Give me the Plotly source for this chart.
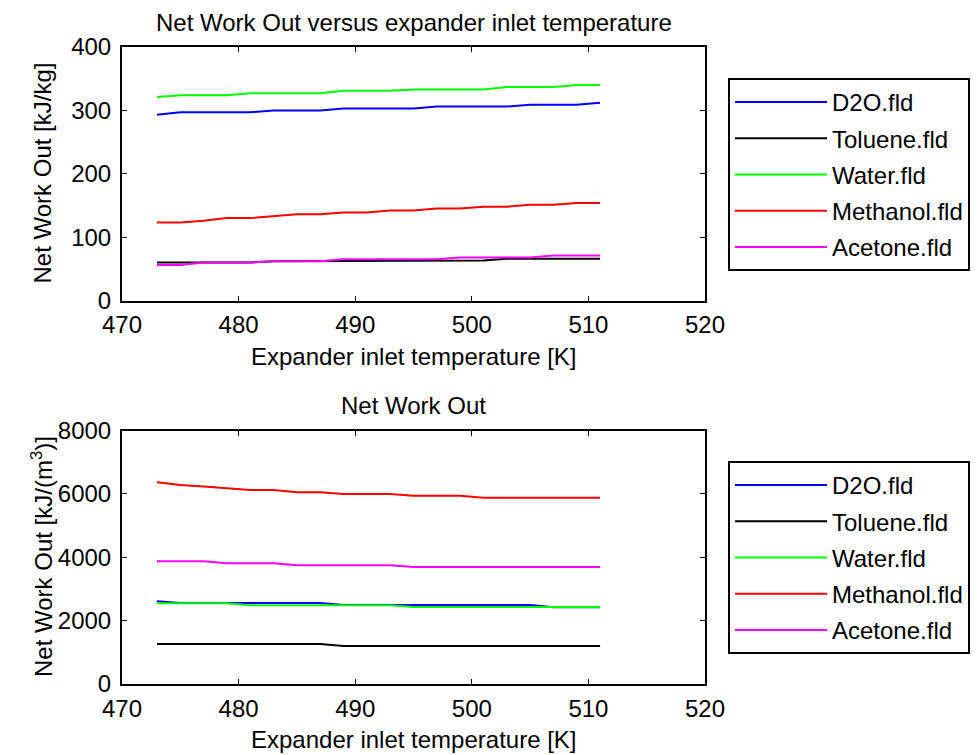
import plotly.graph_objects as go

# ---------------- data ----------------
temps = [473, 475, 477, 479, 481, 483, 485, 487, 489, 491,
         493, 495, 497, 499, 501, 503, 505, 507, 509, 511]
fluids = ["D2O.fld", "Toluene.fld", "Water.fld", "Methanol.fld", "Acetone.fld"]
colors = ["#0000FF", "#000000", "#00FF00", "#FF0000", "#FF00FF"]

# Net work out per mass [kJ/kg]
w_d2o = [293, 297, 297, 297, 297, 300, 300, 300, 303, 303, 303, 303, 306, 306, 306, 306, 309, 309, 309, 312]
w_toluene = [60, 60, 60, 60, 60, 62, 62, 63, 63, 63, 63, 63, 63, 63, 63, 66, 66, 66, 66, 66]
w_water = [321, 324, 324, 324, 327, 327, 327, 327, 331, 331, 331, 333, 333, 333, 333, 337, 337, 337, 340, 340]
w_methanol = [123, 123, 126, 130, 130, 133, 136, 136, 139, 139, 142, 142, 145, 145, 148, 148, 151, 151, 154, 154]
w_acetone = [56, 56, 60, 60, 60, 62, 62, 62, 65, 65, 65, 65, 65, 68, 68, 68, 68, 71, 71, 71]

# Net work out per volume [kJ/m^3]
v_d2o = [2610, 2557, 2557, 2557, 2557, 2557, 2557, 2557, 2494, 2494, 2494, 2494, 2494, 2494, 2494, 2494, 2494, 2420, 2420, 2420]
v_toluene = [1263, 1263, 1263, 1263, 1263, 1263, 1263, 1263, 1200, 1200, 1200, 1200, 1200, 1200, 1200, 1200, 1200, 1200, 1200, 1200]
v_water = [2546, 2546, 2546, 2546, 2483, 2483, 2483, 2483, 2483, 2483, 2483, 2430, 2430, 2430, 2430, 2430, 2430, 2430, 2430, 2430]
v_methanol = [6370, 6284, 6230, 6168, 6126, 6126, 6053, 6053, 6000, 6000, 6000, 5937, 5937, 5937, 5874, 5874, 5874, 5874, 5874, 5874]
v_acetone = [3873, 3873, 3873, 3810, 3810, 3810, 3747, 3747, 3747, 3747, 3747, 3694, 3694, 3694, 3694, 3694, 3694, 3694, 3694, 3694]

x_ticks = [470, 480, 490, 500, 510, 520]
y1_ticks = [0, 100, 200, 300, 400]
y2_ticks = [0, 2000, 4000, 6000, 8000]

top_series = [w_d2o, w_toluene, w_water, w_methanol, w_acetone]
bot_series = [v_d2o, v_toluene, v_water, v_methanol, v_acetone]

# ---------------- figure ----------------
W, H = 978, 755
OFF = 8  # page body margin offset
FONT = "Liberation Sans, Arial, Helvetica, sans-serif"
FS = 24


def px(xp):
    return (xp - OFF) / W


def py(yp):
    return (H - (yp - OFF)) / H


fig = go.Figure()
for name, col, ys in zip(fluids, colors, top_series):
    fig.add_trace(go.Scatter(x=temps, y=ys, mode="lines", name=name,
                             line=dict(color=col, width=2),
                             xaxis="x", yaxis="y", legend="legend",
                             legendgroup="t" + name))
for name, col, ys in zip(fluids, colors, bot_series):
    fig.add_trace(go.Scatter(x=temps, y=ys, mode="lines", name=name,
                             line=dict(color=col, width=2),
                             xaxis="x2", yaxis="y2", legend="legend2",
                             legendgroup="b" + name))

x_dom = [px(122), px(705)]
y1_dom = [py(300.5), py(47)]
y2_dom = [py(684), py(430.5)]

axis_common = dict(showline=True, linecolor="black", linewidth=2, mirror="ticks",
                   ticks="inside", ticklen=5, tickwidth=1, tickcolor="black",
                   showgrid=False, zeroline=False, automargin=False,
                   tickfont=dict(family=FONT, size=FS, color="black"))

legend_common = dict(x=px(728), xanchor="left", yanchor="top",
                     bordercolor="black", borderwidth=2, bgcolor="white",
                     traceorder="grouped", tracegroupgap=2, itemwidth=92,
                     font=dict(family=FONT, size=FS, color="black"))

fig.update_layout(
    template="none",
    width=W, height=H,
    margin=dict(l=0, r=0, t=0, b=0, autoexpand=False),
    paper_bgcolor="white", plot_bgcolor="white",
    font=dict(family=FONT, size=FS, color="black"),
    xaxis=dict(domain=x_dom, anchor="y", range=[470, 520], tickvals=x_ticks,
               ticklabelstandoff=2, **axis_common),
    yaxis=dict(domain=y1_dom, anchor="x", range=[0, 400], tickvals=y1_ticks,
               ticklabelstandoff=4, **axis_common),
    xaxis2=dict(domain=x_dom, anchor="y2", range=[470, 520], tickvals=x_ticks,
                ticklabelstandoff=2, **axis_common),
    yaxis2=dict(domain=y2_dom, anchor="x2", range=[0, 8000], tickvals=y2_ticks,
                ticklabelstandoff=4, **axis_common),
    legend=dict(y=py(78), **legend_common),
    legend2=dict(y=py(461), **legend_common),
    showlegend=True,
)

xc = (x_dom[0] + x_dom[1]) / 2
ann = [
    dict(text="Net Work Out versus expander inlet temperature", x=xc, y=py(23)),
    dict(text="Expander inlet temperature [K]", x=xc, y=py(356)),
    dict(text="Net Work Out", x=xc, y=py(405)),
    dict(text="Expander inlet temperature [K]", x=xc, y=py(739)),
    dict(text="Net Work Out [kJ/kg]", x=px(42), y=py(173.5), textangle=-90),
    dict(text="Net Work Out [kJ/(m<sup>3</sup>)]", x=px(42), y=py(557), textangle=-90),
]
for a in ann:
    fig.add_annotation(xref="paper", yref="paper", showarrow=False,
                       xanchor="center", yanchor="middle",
                       font=dict(family=FONT, size=FS, color="black"), **a)

fig.write_html("out.html")
